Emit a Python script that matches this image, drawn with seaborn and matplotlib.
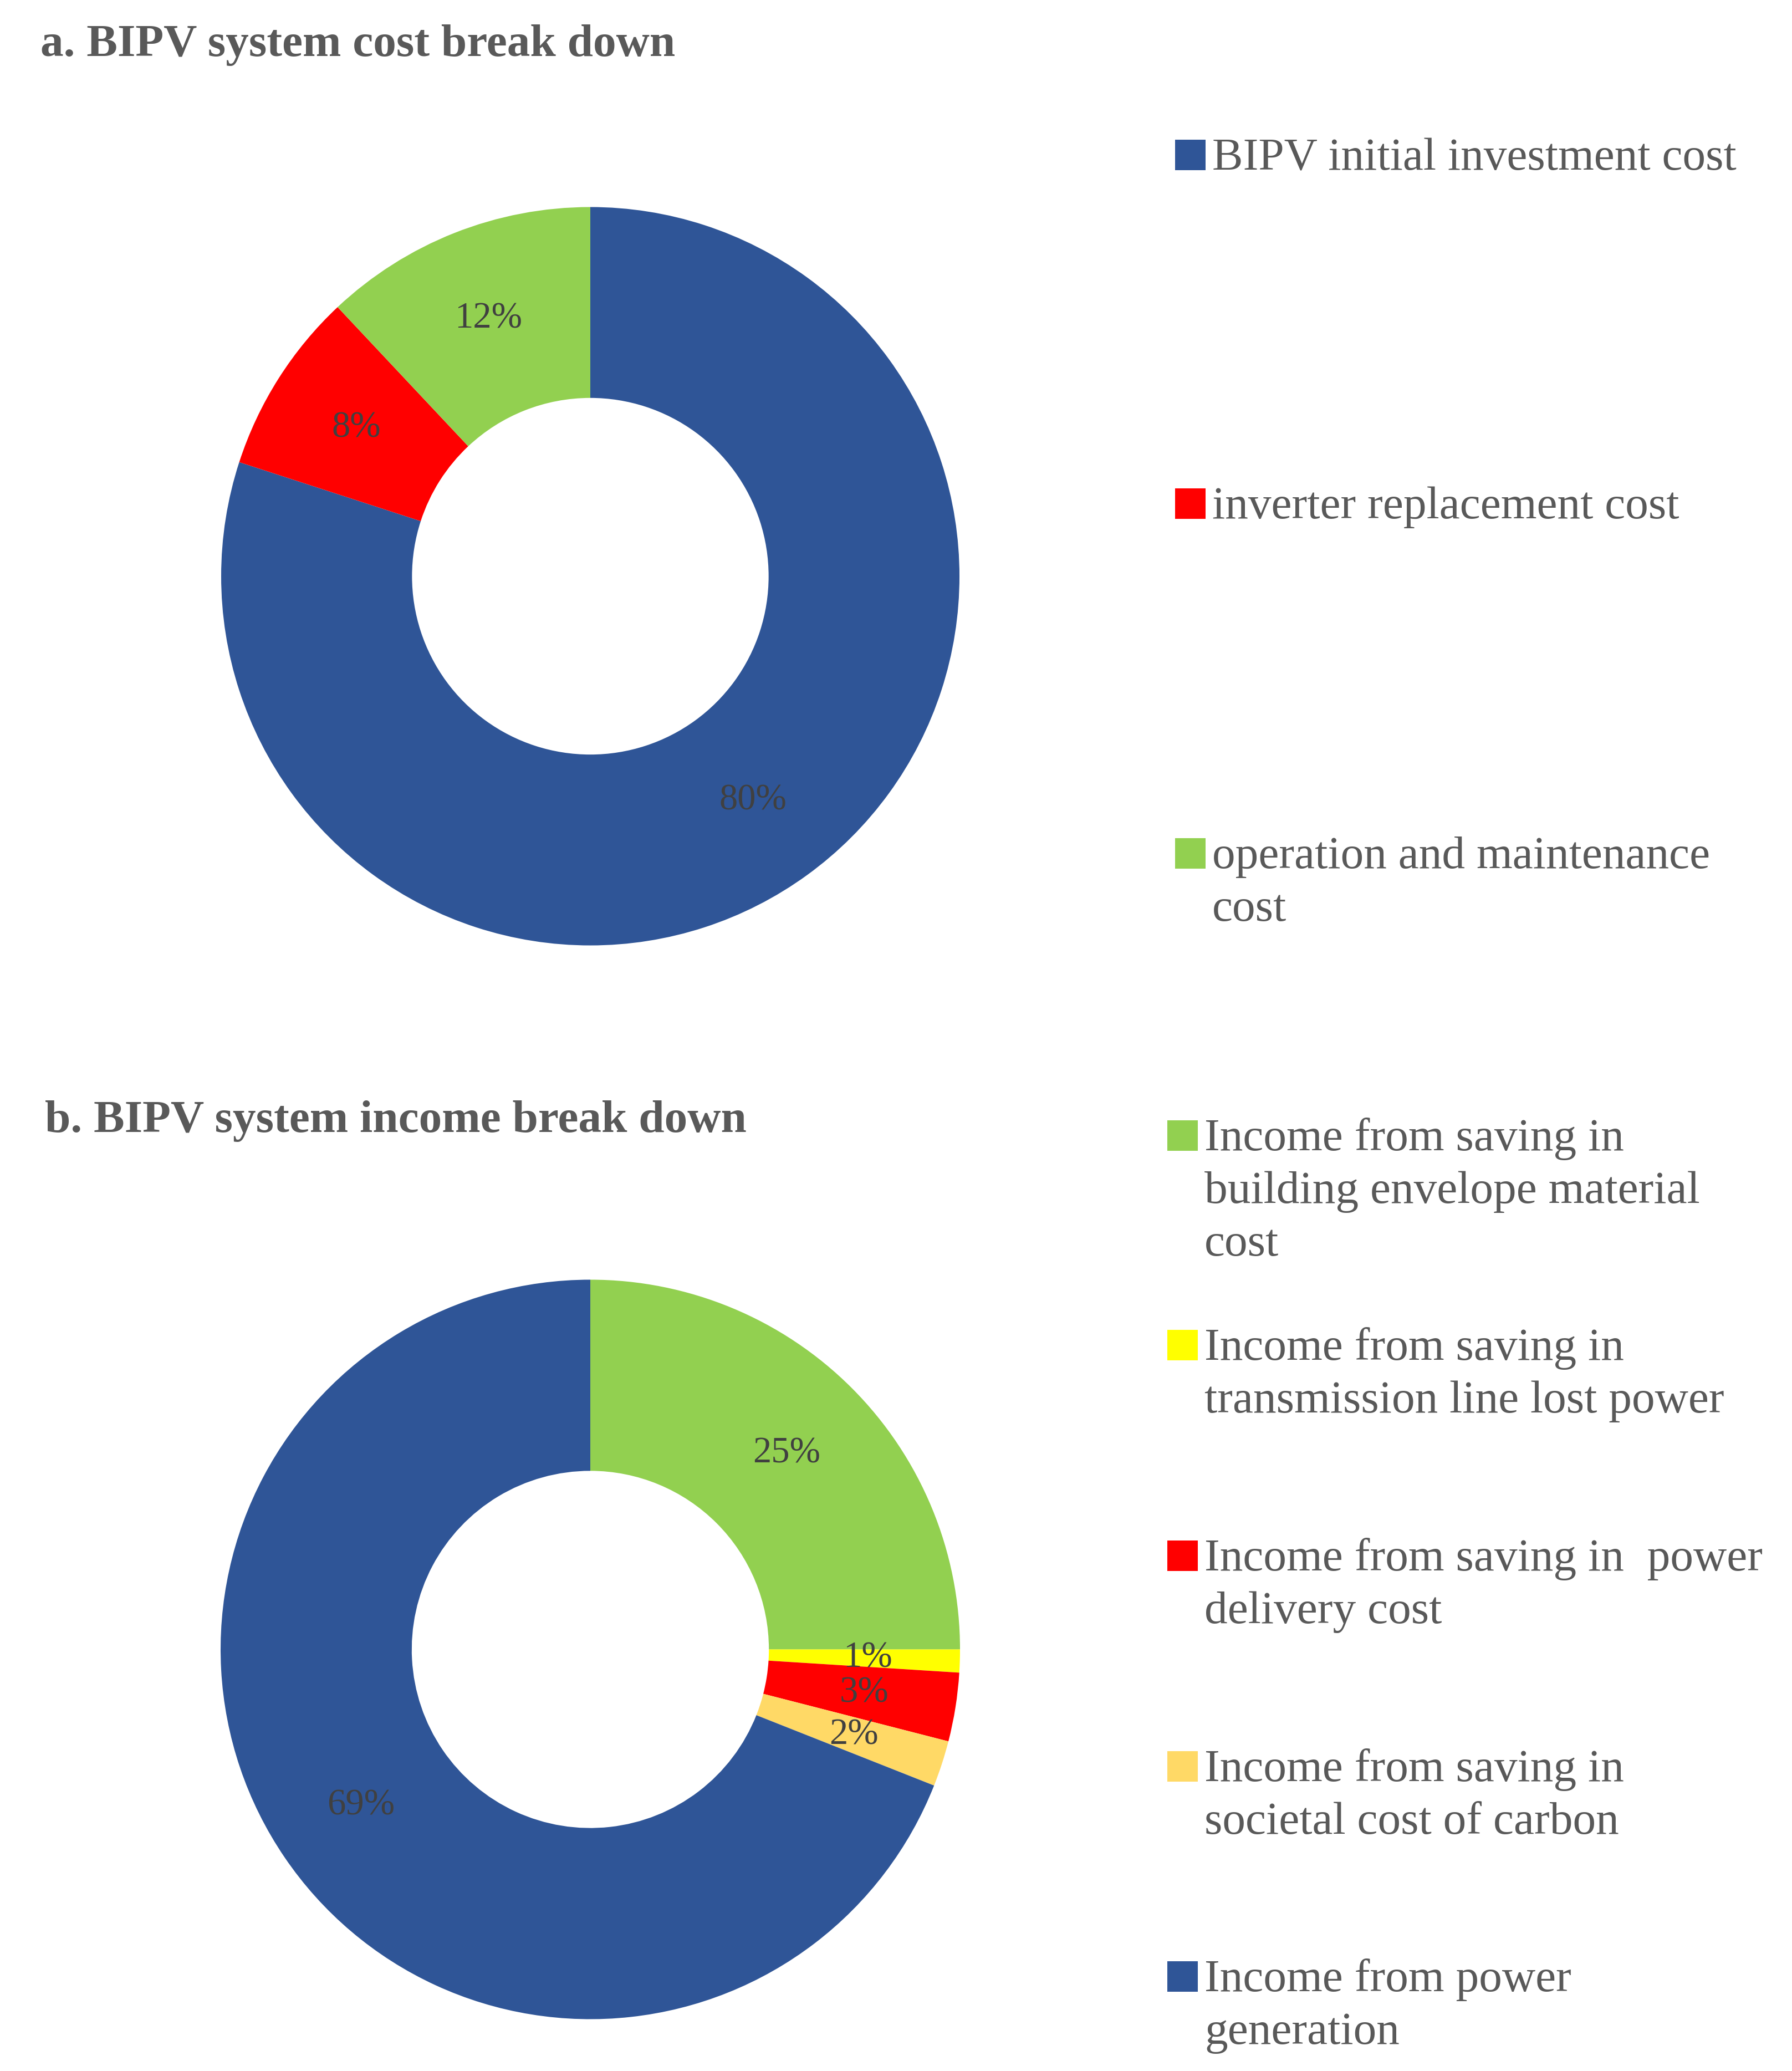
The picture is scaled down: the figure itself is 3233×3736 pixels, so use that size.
import matplotlib
matplotlib.use("Agg")
import matplotlib.pyplot as plt
import seaborn as sns
from matplotlib.patches import Rectangle

# Data
cost_labels = ["BIPV initial investment cost",
               "inverter replacement cost",
               "operation and maintenance\ncost"]
cost_values = [80, 8, 12]
cost_colors = ["#2F5597", "#FF0000", "#92D050"]

income_labels = ["Income from saving in\nbuilding envelope material\ncost",
                 "Income from saving in\ntransmission line lost power",
                 "Income from saving in  power\ndelivery cost",
                 "Income from saving in\nsocietal cost of carbon",
                 "Income from power\ngeneration"]
income_values = [25, 1, 3, 2, 69]
income_colors = ["#92D050", "#FFFF00", "#FF0000", "#FFD966", "#2F5597"]

sns.set_theme(style="white")
plt.rcParams['font.family'] = ['Liberation Serif', 'DejaVu Serif']

W, H = 3233, 3736
DPI = 200
fig = plt.figure(figsize=(W / DPI, H / DPI), dpi=DPI)
fig.patch.set_facecolor("white")

TITLE_C = "#595959"
LABEL_C = "#404040"


def px_axes(cx, cy, r):
    # axes box in figure fraction from pixel centre/radius
    return fig.add_axes([(cx - r) / W, (H - cy - r) / H, 2 * r / W, 2 * r / H])


def donut(ax, values, colors):
    ax.pie(values, colors=colors, startangle=90, counterclock=False,
           autopct='%1.0f%%', pctdistance=0.75,
           wedgeprops=dict(width=0.517, linewidth=0),
           textprops=dict(color=LABEL_C, fontsize=24))
    ax.set_xlim(-1, 1)
    ax.set_ylim(-1, 1)
    ax.axis("off")


def legend(labels, colors, x_box, x_text, baselines):
    s = 55
    step = 95  # px between lines of one entry
    for lab, col, yb in zip(labels, colors, baselines):
        fig.patches.append(Rectangle((x_box / W, (H - yb - 1) / H), s / W, s / H,
                                     transform=fig.transFigure, facecolor=col,
                                     edgecolor="none"))
        for i, line in enumerate(lab.split("\n")):
            fig.text(x_text / W, (H - yb - i * step) / H, line, fontsize=30,
                     color=TITLE_C, ha="left", va="baseline")


# a. cost break down
ax1 = px_axes(1065, 1039.5, 666)
donut(ax1, cost_values, cost_colors)
fig.text(73 / W, (H - 101) / H, "a. BIPV system cost break down", fontsize=30,
         fontweight="bold", color=TITLE_C, ha="left", va="baseline")
legend(cost_labels, cost_colors, 2120, 2187, [306, 935, 1566])

# b. income break down
ax2 = px_axes(1065, 2975.5, 667)
donut(ax2, income_values, income_colors)
fig.text(81 / W, (H - 2042) / H, "b. BIPV system income break down", fontsize=30,
         fontweight="bold", color=TITLE_C, ha="left", va="baseline")
legend(income_labels, income_colors, 2106, 2173, [2075, 2453, 2833, 3213, 3592])

fig.savefig("out.png", dpi=DPI, facecolor="white")
